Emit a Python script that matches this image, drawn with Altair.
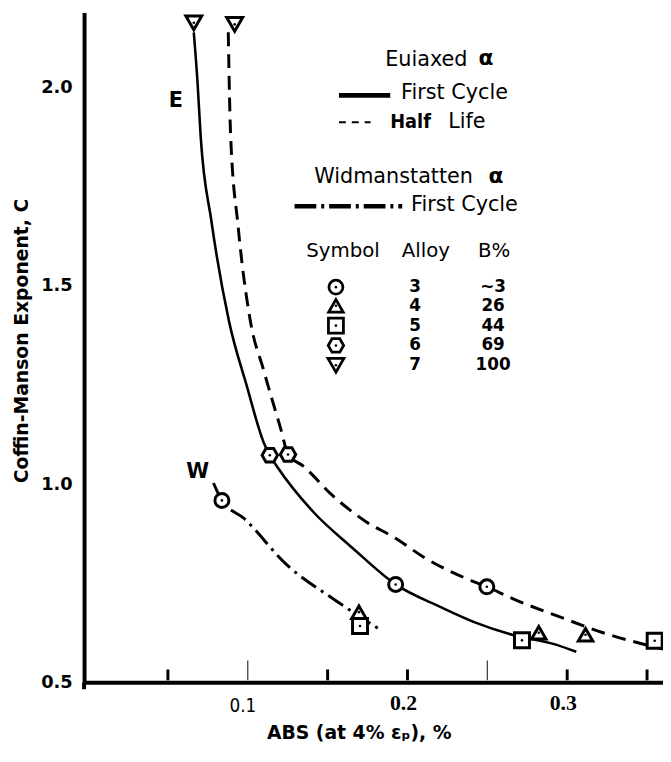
import altair as alt
import pandas as pd

# ---------------- data ----------------
# Equiaxed alpha, first cycle (solid curve "E")
e_abs = [0.0662, 0.0686, 0.0705, 0.0773, 0.0882, 0.0996, 0.1099, 0.1138, 0.1181,
         0.1408, 0.1656, 0.1926, 0.2212, 0.2418, 0.2665, 0.2913, 0.3057]
e_c = [2.140, 2.010, 1.878, 1.662, 1.412, 1.245, 1.106, 1.073, 1.046,
       0.931, 0.839, 0.747, 0.689, 0.652, 0.619, 0.597, 0.577]

# Equiaxed alpha, half life (dashed curve)
h_abs = [0.0878, 0.0884, 0.0892, 0.0940, 0.1016, 0.1099, 0.1202, 0.1254, 0.1346,
         0.1532, 0.1738, 0.1923, 0.2109, 0.2356, 0.2497, 0.2665, 0.2954, 0.3242, 0.3599]
h_c = [2.140, 2.010, 1.886, 1.649, 1.412, 1.288, 1.146, 1.075, 1.046,
       0.971, 0.906, 0.864, 0.814, 0.764, 0.741, 0.710, 0.665, 0.623, 0.584]

# Widmanstatten alpha, first cycle (dash-dot curve "W")
w_abs = [0.0785, 0.0838, 0.0975, 0.1243, 0.1552, 0.1820]
w_c = [1.003, 0.959, 0.914, 0.797, 0.706, 0.635]

# Data symbols
pt_abs = [0.0662, 0.1138, 0.1926, 0.2717, 0.2822,
          0.0918, 0.1252, 0.2497, 0.3115, 0.3548,
          0.0838, 0.1696, 0.1703]
pt_c = [2.164, 1.073, 0.747, 0.606, 0.625,
        2.160, 1.075, 0.741, 0.620, 0.605,
        0.959, 0.677, 0.642]
pt_alloy = ["7", "6", "3", "5", "4",
            "7", "6", "3", "4", "5",
            "3", "4", "5"]

# Legend table
leg_alloy = ["3", "4", "5", "6", "7"]
leg_beta = ["~3", "26", "44", "69", "100"]

# Axis ticks / labels
x_label_plain = [0.1]
x_label_bold = [0.2, 0.3]
x_ticks_long = [0.1, 0.25]
x_ticks_short = [0.05, 0.15, 0.2, 0.3, 0.35]
y_tick_labels = [0.5, 1.0, 1.5, 2.0]

# ---------------- layout ----------------
W_PLOT, H_PLOT = 586, 678
xs = alt.Scale(domain=[-0.0025, 0.36], nice=False, zero=False)
ys = alt.Scale(domain=[0.5, 2.19], nice=False, zero=False)

HEX = "M-1,0L-0.5,-0.87L0.5,-0.87L1,0L0.5,0.87L-0.5,0.87Z"
shape_scale = alt.Scale(domain=["3", "4", "5", "6", "7"],
                        range=["circle", "triangle-up", "square", HEX, "triangle-down"])
size_scale = alt.Scale(domain=["3", "4", "5", "6", "7"], range=[200, 260, 180, 210, 300])

x_axis = alt.Axis(
    values=x_label_plain + x_label_bold, labels=False, title="ABS (at 4% εₚ), %",
    grid=False, ticks=False, tickSize=0, domainColor="black", domainWidth=4,
    titleFont="DejaVu Sans", titleFontSize=19, titleFontWeight="bold", titleColor="black",
    titleX=278, titleY=51, titleAlign="center", titleBaseline="middle",
)
y_axis = alt.Axis(
    values=y_tick_labels, format=".1f", title="Coffin-Manson Exponent, C",
    grid=False, ticks=False, tickSize=0, domainColor="black", domainWidth=4,
    labelFont="DejaVu Sans", labelFontWeight="bold", labelFontSize=18, labelColor="black",
    labelPadding=12, labelOverlap=False, labelFlush=False,
    titleFont="DejaVu Sans", titleFontSize=19, titleFontWeight="bold", titleColor="black",
    titleX=-63, titleY=332, titleAngle=270, titleAlign="center", titleBaseline="middle",
)


def X():
    return alt.X("x:Q", scale=xs, axis=x_axis)


def Y():
    return alt.Y("y:Q", scale=ys, axis=y_axis)


layers = []

# curves
df_e = pd.DataFrame({"x": e_abs, "y": e_c, "o": range(len(e_abs))})
df_h = pd.DataFrame({"x": h_abs, "y": h_c, "o": range(len(h_abs))})
df_w = pd.DataFrame({"x": w_abs, "y": w_c, "o": range(len(w_abs))})

layers.append(alt.Chart(df_e).mark_line(color="black", strokeWidth=2.6, interpolate="monotone")
              .encode(x=X(), y=Y(), order="o:Q"))
layers.append(alt.Chart(df_h).mark_line(color="black", strokeWidth=3, strokeDash=[14, 8],
                                        interpolate="monotone")
              .encode(x=X(), y=Y(), order="o:Q"))
layers.append(alt.Chart(df_w).mark_line(color="black", strokeWidth=3, strokeDash=[18, 6, 3, 6],
                                        interpolate="monotone")
              .encode(x=X(), y=Y(), order="o:Q"))

# inward x ticks
layers.append(alt.Chart(pd.DataFrame({"x": x_ticks_long})).mark_rule(color="#333", strokeWidth=1.2)
              .encode(x=X(), y=alt.value(H_PLOT - 2), y2=alt.value(H_PLOT - 22)))
layers.append(alt.Chart(pd.DataFrame({"x": x_ticks_short})).mark_rule(color="black", strokeWidth=3)
              .encode(x=X(), y=alt.value(H_PLOT - 2), y2=alt.value(H_PLOT - 13)))
# small overshoot of the y-axis line below the x-axis
layers.append(alt.Chart(pd.DataFrame({"x": [0]})).mark_rule(color="black", strokeWidth=4)
              .encode(x=alt.value(0), y=alt.value(H_PLOT), y2=alt.value(H_PLOT + 7)))

# x tick labels (mixed fonts as in the original)
layers.append(alt.Chart(pd.DataFrame({"x": x_label_plain, "t": ["0.1"]}))
              .mark_text(font="DejaVu Sans Condensed, Liberation Sans", fontSize=19, color="black",
                         align="center", baseline="middle", dx=-5)
              .encode(x=X(), y=alt.value(H_PLOT + 24), text="t:N"))
layers.append(alt.Chart(pd.DataFrame({"x": x_label_bold, "t": ["0.2", "0.3"]}))
              .mark_text(font="Liberation Serif", fontSize=22, fontWeight="bold", color="black",
                         align="center", baseline="middle", dx=-4)
              .encode(x=X(), y=alt.value(H_PLOT + 21), text="t:N"))

# data symbols
df_pts = pd.DataFrame({"x": pt_abs, "y": pt_c, "alloy": pt_alloy})
layers.append(alt.Chart(df_pts).mark_point(filled=True, fill="white", stroke="black",
                                           strokeWidth=3, opacity=1)
              .encode(x=X(), y=Y(),
                      shape=alt.Shape("alloy:N", scale=shape_scale, legend=None),
                      size=alt.Size("alloy:O", scale=size_scale, legend=None)))
layers.append(alt.Chart(df_pts).mark_point(filled=True, color="black", size=7, shape="circle", opacity=1)
              .encode(x=X(), y=Y()))

# curve labels
df_lab = pd.DataFrame({"x": [0.0550, 0.0686], "y": [1.966, 1.031], "t": ["E", "W"]})
layers.append(alt.Chart(df_lab).mark_text(font="DejaVu Sans", fontWeight="bold", fontSize=21,
                                          color="black", baseline="middle", align="center")
              .encode(x=X(), y=Y(), text="t:N"))


# ---------------- legend block ----------------
def text_layer(xv, yv, tv, align="left", font="DejaVu Sans", size=21, weight="normal"):
    d = pd.DataFrame({"x": xv, "y": yv, "t": tv})
    return (alt.Chart(d).mark_text(font=font, fontSize=size, fontWeight=weight, color="black",
                                   align=align, baseline="middle")
            .encode(x=X(), y=Y(), text="t:N"))


layers.append(text_layer([0.1861, 0.1960, 0.2255, 0.1416, 0.2022],
                         [2.070, 1.986, 1.913, 1.774, 1.704],
                         ["Euiaxed", "First Cycle", "Life", "Widmanstatten", "First Cycle"]))
layers.append(text_layer([0.1892], [1.913], ["Half"], size=20, weight="bold",
                         font="DejaVu Sans Condensed, Liberation Sans"))
layers.append(text_layer([0.2492, 0.2554], [2.074, 1.778], ["α", "α"], align="center",
                         size=22, weight="bold"))
layers.append(text_layer([0.1596, 0.2115, 0.2542], [1.587, 1.587, 1.587],
                         ["Symbol", "Alloy", "B%"], align="center", size=20))
row_y = [1.497, 1.450, 1.400, 1.350, 1.300]
layers.append(text_layer([0.2047] * 5, row_y, leg_alloy, align="center", size=17, weight="bold"))
layers.append(text_layer([0.2536] * 5, row_y, leg_beta, align="center", size=17, weight="bold"))

df_leg_sym = pd.DataFrame({"x": [0.1552] * 5, "y": row_y, "alloy": leg_alloy})
layers.append(alt.Chart(df_leg_sym).mark_point(filled=True, fill="white", stroke="black",
                                               strokeWidth=2.8, opacity=1)
              .encode(x=X(), y=Y(),
                      shape=alt.Shape("alloy:N", scale=shape_scale, legend=None),
                      size=alt.Size("alloy:O", scale=size_scale, legend=None)))
layers.append(alt.Chart(df_leg_sym).mark_point(filled=True, color="black", size=7, shape="circle", opacity=1)
              .encode(x=X(), y=Y()))

# legend line samples
layers.append(alt.Chart(pd.DataFrame({"x": [0.1571], "x2": [0.1892], "y": [1.981]}))
              .mark_rule(color="black", strokeWidth=5)
              .encode(x=X(), x2="x2:Q", y=Y()))
layers.append(alt.Chart(pd.DataFrame({"x": [0.1571], "x2": [0.1769], "y": [1.913]}))
              .mark_rule(color="black", strokeWidth=2, strokeDash=[7, 6])
              .encode(x=X(), x2="x2:Q", y=Y()))
layers.append(alt.Chart(pd.DataFrame({"x": [0.1293], "x2": [0.1967], "y": [1.701]}))
              .mark_rule(color="black", strokeWidth=4.5, strokeDash=[22, 5, 3, 5])
              .encode(x=X(), x2="x2:Q", y=Y()))

chart = (alt.layer(*layers)
         .properties(width=W_PLOT, height=H_PLOT,
                     autosize=alt.AutoSizeParams(type="none"),
                     padding={"left": 77, "top": 0, "right": 0, "bottom": 70},
                     background="white")
         .configure_view(stroke=None))

chart.save("out.html", embed_options={"renderer": "svg", "actions": False})
